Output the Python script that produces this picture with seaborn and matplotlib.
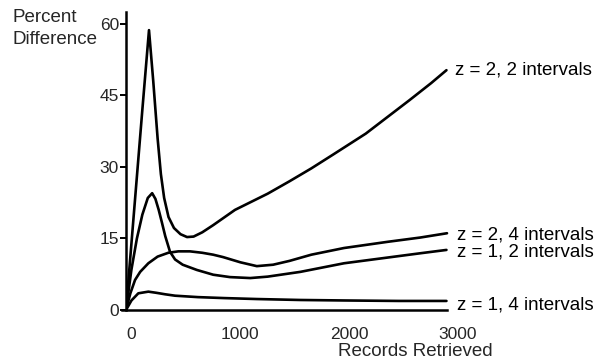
import matplotlib
matplotlib.use("Agg")
import matplotlib.pyplot as plt
import matplotlib.transforms as mtransforms
import seaborn as sns
import pandas as pd

# ---- data ----
a_x = [0, 50, 100, 150, 211, 250, 290, 320, 350, 390, 440, 500, 560, 620, 700, 800, 900, 1000, 1150, 1300, 1500, 1700, 1900, 2200, 2400, 2600, 2800, 2940]
a_y = [0, 14, 28, 42, 58.7, 48, 36, 28.5, 23.5, 19.5, 17.2, 15.9, 15.3, 15.4, 16.3, 17.8, 19.4, 21.0, 22.7, 24.4, 27.0, 29.7, 32.6, 37.0, 40.5, 44.0, 47.6, 50.3]

b_x = [0, 50, 100, 150, 200, 240, 270, 300, 330, 360, 404, 450, 520, 650, 800, 954, 1140, 1300, 1600, 2000, 2400, 2700, 2940]
b_y = [0, 8.5, 15, 20, 23.5, 24.5, 23.3, 21.0, 18.3, 15.5, 12.2, 10.6, 9.5, 8.4, 7.4, 6.9, 6.7, 7.0, 8.0, 9.8, 11.0, 11.9, 12.6]

c_x = [0, 40, 83, 130, 205, 290, 388, 480, 587, 700, 800, 890, 1050, 1200, 1350, 1500, 1700, 2000, 2400, 2700, 2945]
c_y = [0, 3.5, 6.3, 8.0, 9.8, 11.2, 12.0, 12.3, 12.3, 12.0, 11.6, 11.1, 10.0, 9.2, 9.5, 10.3, 11.6, 13.0, 14.3, 15.2, 16.1]

d_x = [0, 50, 113, 205, 280, 358, 450, 661, 900, 1200, 1600, 2000, 2500, 2940]
d_y = [0, 2.0, 3.5, 3.85, 3.6, 3.3, 3.0, 2.7, 2.5, 2.3, 2.1, 2.0, 1.9, 1.9]

series_names = ["z = 2, 2 intervals", "z = 1, 2 intervals", "z = 2, 4 intervals", "z = 1, 4 intervals"]
label_y = [50.3, 12.2, 15.7, 1.05]

x_ticks = [0, 1000, 2000, 3000]
y_ticks = [0, 15, 30, 45, 60]

frames = []
for name, xs, ys in zip(series_names, [a_x, b_x, c_x, d_x], [a_y, b_y, c_y, d_y]):
    frames.append(pd.DataFrame({"x": xs, "y": ys, "series": name}))
df = pd.concat(frames, ignore_index=True)

sns.set_style("white")
plt.rcParams["font.family"] = ["Liberation Sans", "DejaVu Sans"]

fig = plt.figure(figsize=(5.97, 3.61), dpi=100)
W, H = 597, 361
ax = fig.add_axes([126 / W, (H - 310) / H, 327 / W, 297.5 / H])

sns.lineplot(data=df, x="x", y="y", hue="series", hue_order=series_names,
             palette=["black"] * 4, sort=False, estimator=None,
             linewidth=1.9, legend=False, ax=ax)

ax.set_xlim(0, 3000)
ax.set_ylim(0, 62.4)
ax.set_xticks(x_ticks)
ax.set_yticks(y_ticks)
ax.set_xticklabels([str(v) for v in x_ticks])
ax.set_yticklabels([str(v) for v in y_ticks])
ax.set_xlabel("")
ax.set_ylabel("")

for s in ["top", "right"]:
    ax.spines[s].set_visible(False)
for s in ["left", "bottom"]:
    ax.spines[s].set_linewidth(1.8)
    ax.spines[s].set_color("black")
ax.spines["bottom"].set_bounds(-40, 2945)

ax.tick_params(axis="y", direction="out", length=4, width=1.4, color="black",
               labelsize=12.5, pad=1, left=True)
ax.tick_params(axis="x", length=0, labelsize=12.5, pad=12, bottom=True)

offset = mtransforms.ScaledTranslation(5 / 100, 0, fig.dpi_scale_trans)
for lbl in ax.get_xticklabels():
    lbl.set_transform(lbl.get_transform() + offset)

# curve labels
label_x = [3018, 3037, 3037, 3037]
for name, lx, ly in zip(series_names, label_x, label_y):
    ax.text(lx, ly, name, fontsize=13.5, va="center", ha="left", clip_on=False, color="black")

fig.text(415 / W, 1 - 352 / H, "Records Retrieved", fontsize=13.5, ha="center", va="center")
fig.text(12 / W, 1 - 17 / H, "Percent", fontsize=13.5, ha="left", va="center")
fig.text(12 / W, 1 - 40 / H, "Difference", fontsize=13.5, ha="left", va="center")

fig.savefig("out.png", dpi=100, facecolor="white")
